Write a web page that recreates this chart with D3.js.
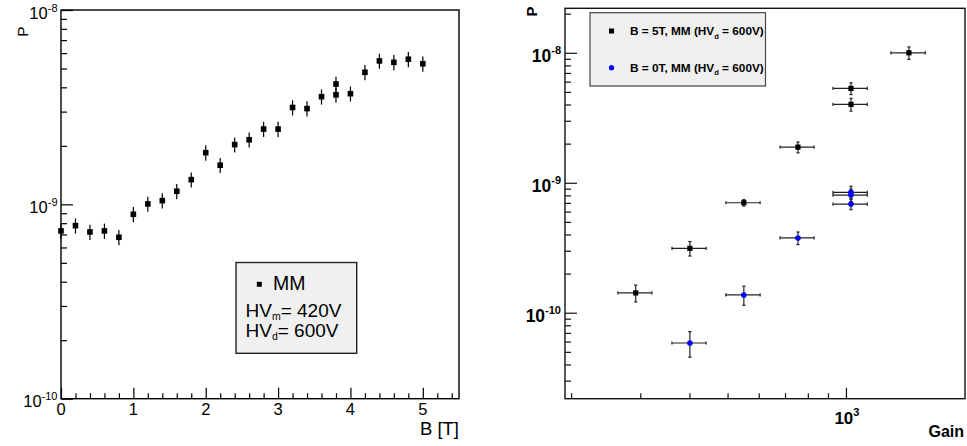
<!DOCTYPE html>
<html>
<head>
<meta charset="utf-8">
<script src="https://cdn.jsdelivr.net/npm/d3@7"></script>
<style>
body { margin: 0; background: #fff; }
svg { display: block; font-family: "Liberation Sans", Arial, Helvetica, sans-serif; }
.domain { display: none; }
</style>
</head>
<body>
<svg id="chart" width="967" height="446"></svg>
<script>
// ---- left panel: P against magnetic field ----
const bField = [0, 0.2, 0.4, 0.6, 0.8, 1.0, 1.2, 1.4, 1.6, 1.8, 2.0, 2.2, 2.4, 2.6, 2.8, 3.0, 3.2, 3.4, 3.6, 3.8, 3.8, 4.0, 4.2, 4.4, 4.6, 4.8, 5.0];
const pVsB = [7.30e-10, 7.77e-10, 7.21e-10, 7.30e-10, 6.77e-10, 8.89e-10, 1.005e-9, 1.045e-9, 1.168e-9, 1.34e-9,
  1.845e-9, 1.59e-9, 2.03e-9, 2.15e-9, 2.44e-9, 2.44e-9, 3.15e-9, 3.11e-9, 3.58e-9, 3.66e-9, 4.16e-9,
  3.71e-9, 4.78e-9, 5.47e-9, 5.38e-9, 5.58e-9, 5.29e-9];
const pVsBErr = [0.66e-10, 0.70e-10, 0.65e-10, 0.66e-10, 0.61e-10, 0.80e-10, 0.90e-10, 0.94e-10, 1.05e-10, 1.20e-10,
  1.70e-10, 1.40e-10, 1.80e-10, 1.90e-10, 2.20e-10, 2.20e-10, 2.80e-10, 2.80e-10, 3.20e-10, 3.30e-10, 3.70e-10,
  3.30e-10, 4.30e-10, 4.90e-10, 4.80e-10, 5.00e-10, 4.80e-10];
const leftLegend = ["MM", "HV|m|= 420V", "HV|d|= 600V"];

// ---- right panel: P against gain ----
const gain5T = [292, 401, 550, 755, 1030, 1030, 1446];
const gain5TErr = [29, 40, 55, 75, 103, 103, 145];
const p5T = [1.42e-10, 3.13e-10, 7.02e-10, 1.88e-9, 5.32e-9, 4.01e-9, 1.0e-8];
const p5TErr = [0.21e-10, 0.40e-10, 0.40e-10, 1.8e-10, 5.5e-10, 4.5e-10, 11e-10];
const gain0T = [401, 550, 755, 1030, 1030, 1030];
const gain0TErr = [40, 55, 75, 103, 103, 103];
const p0T = [5.85e-11, 1.37e-10, 3.76e-10, 8.44e-10, 8.04e-10, 6.86e-10];
const p0TErr = [1.3e-11, 0.23e-10, 0.42e-10, 0.95e-10, 0.90e-10, 0.65e-10];
const rightLegend = ["B = 5T, MM (HV|d| = 600V)", "B = 0T, MM (HV|d| = 600V)"];

const svg = d3.select("#chart");

// writes "10^n" style labels
function powLabel(sel, exp, big, small, rise) {
  sel.append("tspan").attr("font-size", big).text("10");
  sel.append("tspan").attr("font-size", small).attr("dy", -rise).text(exp);
}
// "HV|d|= 600V" -> subscript in the middle
function subLabel(sel, str, big, small, drop) {
  const parts = str.split("|");
  sel.append("tspan").attr("font-size", big).text(parts[0]);
  sel.append("tspan").attr("font-size", small).attr("dy", drop).text(parts[1]);
  sel.append("tspan").attr("font-size", big).attr("dy", -drop).text(parts[2]);
}

// =================== LEFT ===================
const L = { x0: 61, x1: 459, y0: 10, y1: 398.7 };
const xL = d3.scaleLinear().domain([0, 5.5]).range([L.x0, L.x1]);
const yL = d3.scaleLog().domain([1e-10, 1e-8]).range([L.y1, L.y0]);

const gl = svg.append("g");
gl.append("rect").attr("x", L.x0).attr("y", L.y0).attr("width", L.x1 - L.x0).attr("height", L.y1 - L.y0)
  .attr("fill", "none").attr("stroke", "#000").attr("stroke-width", 1.4);

let minorY = [];
[1e-10, 1e-9].forEach(d => d3.range(2, 10).forEach(k => minorY.push(k * d)));

gl.append("g").attr("transform", `translate(${L.x0},0)`)
  .call(d3.axisLeft(yL).tickValues([1e-10, 1e-9, 1e-8]).tickSize(-12).tickFormat(""));
gl.append("g").attr("transform", `translate(${L.x0},0)`)
  .call(d3.axisLeft(yL).tickValues(minorY).tickSize(-6).tickFormat(""));
gl.append("g").attr("transform", `translate(0,${L.y1})`)
  .call(d3.axisBottom(xL).tickValues(d3.range(0, 6)).tickSize(-11).tickFormat(""));
gl.append("g").attr("transform", `translate(0,${L.y1})`)
  .call(d3.axisBottom(xL).tickValues(d3.range(1, 28).map(i => i * 0.2).filter(v => Math.abs(v - Math.round(v)) > 0.01)).tickSize(-5.5).tickFormat(""));
gl.selectAll(".tick line").attr("stroke", "#000").attr("stroke-width", 1.2);

[[1e-8, "-8"], [1e-9, "-9"], [1e-10, "-10"]].forEach(([v, e]) => {
  gl.append("text").attr("x", 57.5).attr("y", yL(v) + 8.5).attr("text-anchor", "end")
    .call(powLabel, e, 16.5, 11, 7);
});
d3.range(0, 6).forEach(v => {
  gl.append("text").attr("x", xL(v)).attr("y", 414.5).attr("text-anchor", "middle")
    .attr("font-size", 16.5).text(v);
});
gl.append("text").attr("x", L.x1).attr("y", 435).attr("text-anchor", "end").attr("font-size", 18.5).text("B [T]");
gl.append("text").attr("transform", "translate(28.3,26.5) rotate(-90)").attr("text-anchor", "end")
  .attr("font-size", 15.5).text("P");

// error bars + markers
gl.append("g").selectAll("line").data(bField).join("line")
  .attr("x1", d => xL(d)).attr("x2", d => xL(d))
  .attr("y1", (d, i) => yL(pVsB[i] + pVsBErr[i])).attr("y2", (d, i) => yL(pVsB[i] - pVsBErr[i]))
  .attr("stroke", "#000").attr("stroke-width", 1.2);
gl.append("g").selectAll("rect").data(bField).join("rect")
  .attr("x", d => xL(d) - 2.8).attr("y", (d, i) => yL(pVsB[i]) - 2.8)
  .attr("width", 5.6).attr("height", 5.6).attr("fill", "#000");

// legend
const lg = gl.append("g");
lg.append("rect").attr("x", 236).attr("y", 262.5).attr("width", 120.7).attr("height", 90.8)
  .attr("fill", "#f0f0f0").attr("stroke", "#222").attr("stroke-width", 1.4);
lg.append("rect").attr("x", 256.8).attr("y", 281.8).attr("width", 5).attr("height", 5).attr("fill", "#000");
lg.append("text").attr("x", 273).attr("y", 289.5).attr("font-size", 19.5).text(leftLegend[0]);
lg.append("text").attr("x", 245.5).attr("y", 317.3).call(subLabel, leftLegend[1], 19, 10.5, 3);
lg.append("text").attr("x", 245.5).attr("y", 336.7).call(subLabel, leftLegend[2], 19, 10.5, 3);

// =================== RIGHT ===================
const R = { x0: 565, x1: 965, y0: 8.3, y1: 398.7 };
const xR = d3.scaleLog().domain([193, 2008]).range([R.x0, R.x1]);
const yR = d3.scaleLog().domain([2.18e-11, 2.2e-8]).range([R.y1, R.y0]);

const gr = svg.append("g");
gr.append("rect").attr("x", R.x0).attr("y", R.y0).attr("width", R.x1 - R.x0).attr("height", R.y1 - R.y0)
  .attr("fill", "none").attr("stroke", "#111").attr("stroke-width", 1.4);

let minorYR = [];
[1e-11, 1e-10, 1e-9, 1e-8].forEach(d => d3.range(2, 10).forEach(k => {
  const v = k * d;
  if (v > 2.18e-11 && v < 2.2e-8) minorYR.push(v);
}));
let minorXR = d3.range(2, 10).map(k => k * 100);

gr.append("g").attr("transform", `translate(${R.x0},0)`)
  .call(d3.axisLeft(yR).tickValues([1e-10, 1e-9, 1e-8]).tickSize(-12).tickFormat(""));
gr.append("g").attr("transform", `translate(${R.x0},0)`)
  .call(d3.axisLeft(yR).tickValues(minorYR).tickSize(-6).tickFormat(""));
gr.append("g").attr("transform", `translate(0,${R.y1})`)
  .call(d3.axisBottom(xR).tickValues([1000]).tickSize(-11).tickFormat(""));
gr.append("g").attr("transform", `translate(0,${R.y1})`)
  .call(d3.axisBottom(xR).tickValues(minorXR).tickSize(-5.5).tickFormat(""));
gr.selectAll(".tick line").attr("stroke", "#111").attr("stroke-width", 1.2);

[[1e-8, "-8"], [1e-9, "-9"], [1e-10, "-10"]].forEach(([v, e]) => {
  gr.append("text").attr("x", 561).attr("y", yR(v) + 9).attr("text-anchor", "end")
    .attr("font-weight", "bold").call(powLabel, e, 17.5, 11, 7.5);
});
gr.append("text").attr("x", xR(1000) + 1).attr("y", 423.5).attr("text-anchor", "middle")
  .attr("font-weight", "bold").call(powLabel, "3", 17, 11, 8);
gr.append("text").attr("x", 964).attr("y", 436.7).attr("text-anchor", "end")
  .attr("font-weight", "bold").attr("font-size", 16).text("Gain");
gr.append("text").attr("transform", "translate(536.7,6.5) rotate(-90)").attr("text-anchor", "end")
  .attr("font-weight", "bold").attr("font-size", 15).text("P");

function errBars(g, xs, xe, ys, ye) {
  const cap = 1.6;
  const eb = g.append("g").attr("stroke", "#222").attr("stroke-width", 1.2);
  xs.forEach((x, i) => {
    const cx = xR(x), cy = yR(ys[i]);
    const xa = xR(x - xe[i]), xb = xR(x + xe[i]);
    const ya = yR(ys[i] + ye[i]), yb = yR(ys[i] - ye[i]);
    eb.append("line").attr("x1", xa).attr("x2", xb).attr("y1", cy).attr("y2", cy);
    eb.append("line").attr("x1", cx).attr("x2", cx).attr("y1", ya).attr("y2", yb);
    eb.append("line").attr("x1", xa).attr("x2", xa).attr("y1", cy - cap).attr("y2", cy + cap);
    eb.append("line").attr("x1", xb).attr("x2", xb).attr("y1", cy - cap).attr("y2", cy + cap);
    eb.append("line").attr("x1", cx - cap).attr("x2", cx + cap).attr("y1", ya).attr("y2", ya);
    eb.append("line").attr("x1", cx - cap).attr("x2", cx + cap).attr("y1", yb).attr("y2", yb);
  });
}
errBars(gr, gain5T, gain5TErr, p5T, p5TErr);
errBars(gr, gain0T, gain0TErr, p0T, p0TErr);

gr.append("g").selectAll("rect").data(gain5T).join("rect")
  .attr("x", d => xR(d) - 2.6).attr("y", (d, i) => yR(p5T[i]) - 2.6)
  .attr("width", 5.2).attr("height", 5.2).attr("fill", "#000");
gr.append("g").selectAll("circle").data(gain0T).join("circle")
  .attr("cx", d => xR(d)).attr("cy", (d, i) => yR(p0T[i])).attr("r", 2.8).attr("fill", "#0000ff");

// legend
const rg = gr.append("g");
rg.append("rect").attr("x", 590).attr("y", 12.7).attr("width", 175.5).attr("height", 73.3)
  .attr("fill", "#efefef").attr("stroke", "#444").attr("stroke-width", 1.2);
rg.append("rect").attr("x", 609).attr("y", 28.5).attr("width", 5).attr("height", 5).attr("fill", "#000");
rg.append("circle").attr("cx", 611.5).attr("cy", 67.7).attr("r", 2.6).attr("fill", "#0000ff");
rg.append("text").attr("x", 630).attr("y", 35).attr("font-weight", "bold")
  .call(subLabel, rightLegend[0], 11.8, 7.5, 3.5);
rg.append("text").attr("x", 630).attr("y", 71.7).attr("font-weight", "bold")
  .call(subLabel, rightLegend[1], 11.8, 7.5, 3.5);
</script>
</body>
</html>
